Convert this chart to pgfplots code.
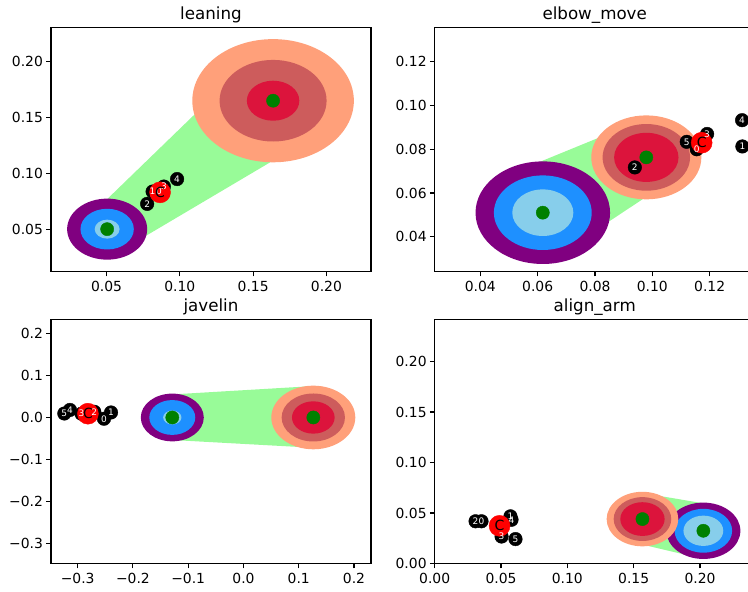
\documentclass[border=0pt]{standalone}
\usepackage{fontspec}
\setmainfont{DejaVu Sans}
\usepackage{pgfplots}
\usepackage{pgfplotstable}
\pgfplotsset{compat=1.18}
\definecolor{mplpurple}{HTML}{800080}
\definecolor{dodgerblue}{HTML}{1E90FF}
\definecolor{skyblue}{HTML}{87CEEB}
\definecolor{lightsalmon}{HTML}{FFA07A}
\definecolor{indianred}{HTML}{CD5C5C}
\definecolor{crimson}{HTML}{DC143C}
\definecolor{mplgreen}{HTML}{008000}
\definecolor{palegreen}{HTML}{98FB98}
\definecolor{mplred}{HTML}{FF0000}

\pgfdeclareplotmark{ell}{\pgfpathellipse{\pgfpointorigin}{\pgfpoint{\xr pt}{0pt}}{\pgfpoint{0pt}{\yr pt}}\pgfusepathqfill}
\pgfdeclareplotmark{nothing}{}

\pgfplotsset{
  sub/.style={width=320pt, height=244pt, scale only axis, anchor=south west, clip=false,
    axis line style={line width=1.1pt, black}, tick align=outside, major tick length=4.9pt,
    tick style={black, line width=1.1pt}, tick pos=left,
    tick label style={font=\fontsize{13.9}{16}\selectfont, text=black},
    xticklabel style={inner sep=0pt, yshift=-5pt},
    yticklabel style={inner sep=0pt, xshift=-3pt}},
  ring/.style 2 args={scatter, only marks, mark=ell, scatter/use mapped color={draw=none, fill=#1},
    visualization depends on={\sx*\thisrow{#2} \as \xr},
    visualization depends on={\sy*\thisrow{#2} \as \yr}},
  dot/.style={only marks, mark=*, mark size=6.6pt, color=mplgreen},
  pts/.style={only marks, mark=*, mark size=6.8pt, color=black},
  cpt/.style={only marks, mark=*, mark size=10.5pt, color=mplred},
  ptlab/.style={only marks, mark=nothing,
    nodes near coords, point meta=explicit symbolic, nodes near coords align={center},
    every node near coord/.append style={anchor=center, text=white, inner sep=0pt, font=\fontsize{9}{10}\selectfont}},
  clab/.style={only marks, mark=nothing,
    nodes near coords={C}, nodes near coords align={center},
    every node near coord/.append style={anchor=center, text=black, inner sep=0pt, font=\fontsize{14}{16}\selectfont}},
}

\newcommand{\drawall}[5]{%
  \addplot[fill=palegreen, draw=none] table {#3} -- cycle;
  \addplot[ring={mplpurple}{r3}] table {#1};
  \addplot[ring={dodgerblue}{r2}] table {#1};
  \addplot[ring={skyblue}{r1}] table {#1};
  \addplot[dot] table {#1};
  \addplot[ring={lightsalmon}{r3}] table {#2};
  \addplot[ring={indianred}{r2}] table {#2};
  \addplot[ring={crimson}{r1}] table {#2};
  \addplot[dot] table {#2};
  \addplot[pts] table {#4};
  \addplot[cpt] table {#5};
  \addplot[ptlab] table[meta=l] {#4};
  \addplot[clab] table {#5};
}
\newcommand{\ttl}[1]{\node[anchor=base, inner sep=0pt, font=\fontsize{16.7}{20}\selectfont] at (axis description cs:0.5,1) [yshift=8.3pt] {#1};}

% ---------- leaning ----------
\pgfplotstableread{
x y r1 r2 r3
0.0504 0.0500 0.0085 0.0182 0.0273
}\laA
\pgfplotstableread{
x y r1 r2 r3
0.1636 0.1649 0.0179 0.0365 0.0551
}\laB
\pgfplotstableread{
x y
0.0337 0.0556
0.1380 0.1881
0.1798 0.1239
0.0588 0.0300
}\laH
\pgfplotstableread{
x y l
0.0858 0.0843 0
0.0814 0.0836 1
0.0777 0.0726 2
0.0891 0.0881 3
0.0981 0.0948 4
}\laP
\pgfplotstableread{
x y
0.0865 0.0829
}\laC

% ---------- elbow_move ----------
\pgfplotstableread{
x y r1 r2 r3
0.0618 0.0510 0.01065 0.01706 0.02346
}\lbA
\pgfplotstableread{
x y r1 r2 r3
0.0979 0.0763 0.01123 0.01525 0.0192
}\lbB
\pgfplotstableread{
x y
0.0520 0.06955
0.0904 0.09015
0.10415 0.0637
0.07835 0.0413
}\lbH
\pgfplotstableread{
x y l
0.1155 0.0800 0
0.1314 0.0813 1
0.0939 0.0717 2
0.1191 0.0870 3
0.1313 0.0933 4
0.1120 0.0834 5
}\lbP
\pgfplotstableread{
x y
0.1172 0.0830
}\lbC

% ---------- javelin ----------
\pgfplotstableread{
x y r1 r2 r3
-0.1288 0.0000 0.0166 0.0416 0.0570
}\lcA
\pgfplotstableread{
x y r1 r2 r3
0.1264 0.0000 0.0386 0.0573 0.0760
}\lcB
\pgfplotstableread{
x y
-0.1288 0.0551
0.1264 0.0750
0.1264 -0.0723
-0.1288 -0.0538
}\lcH
\pgfplotstableread{
x y l
-0.2524 -0.0030 0
-0.2397 0.0120 1
-0.2700 0.0136 2
-0.2930 0.0090 3
-0.3140 0.0180 4
-0.3242 0.0095 5
}\lcP
\pgfplotstableread{
x y
-0.2815 0.0090
}\lcC

% ---------- align_arm ----------
\pgfplotstableread{
x y r1 r2 r3
0.2025 0.0324 0.0150 0.0217 0.0279
}\ldA
\pgfplotstableread{
x y r1 r2 r3
0.1566 0.0440 0.0167 0.0217 0.0270
}\ldB
\pgfplotstableread{
x y
0.1600 0.0690
0.2025 0.0596
0.1980 0.0059
0.1566 0.0187
}\ldH
\pgfplotstableread{
x y l
0.0353 0.0418 0
0.0571 0.0467 1
0.0308 0.0418 2
0.0504 0.0267 3
0.0579 0.0433 4
0.0609 0.0242 5
}\ldP
\pgfplotstableread{
x y
0.0489 0.0373
}\ldC

\begin{document}
\begin{tikzpicture}[x=1pt,y=1pt]
\useasboundingbox (0,0) rectangle (748,592);
\clip (0,0) rectangle (748,592);

\def\sx{1465.9}\def\sy{1117.7}
\begin{axis}[sub, at={(51pt,320.5pt)},
  xmin=0.0121, xmax=0.2304, ymin=0.0121, ymax=0.2304,
  xtick={0.05,0.10,0.15,0.20}, xticklabels={0.05,0.10,0.15,0.20},
  ytick={0.05,0.10,0.15,0.20}, yticklabels={0.05,0.10,0.15,0.20}]
\drawall{\laA}{\laB}{\laH}{\laP}{\laC}
\ttl{leaning}
\end{axis}

\def\sx{2867.4}\def\sy{2186.4}
\begin{axis}[sub, at={(434.7pt,320.5pt)},
  xmin=0.0241, xmax=0.1357, ymin=0.0241, ymax=0.1357,
  xtick={0.04,0.06,0.08,0.10,0.12}, xticklabels={0.04,0.06,0.08,0.10,0.12},
  ytick={0.04,0.06,0.08,0.10,0.12}, yticklabels={0.04,0.06,0.08,0.10,0.12}]
\drawall{\lbA}{\lbB}{\lbH}{\lbP}{\lbC}
\ttl{elbow\_move}
\end{axis}

\def\sx{552.6}\def\sy{418.7}
\begin{axis}[sub, at={(51pt,28.5pt)},
  xmin=-0.3483, xmax=0.2308, ymin=-0.3487, ymax=0.2340,
  xtick={-0.3,-0.2,-0.1,0,0.1,0.2}, xticklabels={−0.3,−0.2,−0.1,0.0,0.1,0.2},
  ytick={-0.3,-0.2,-0.1,0,0.1,0.2}, yticklabels={−0.3,−0.2,−0.1,0.0,0.1,0.2}]
\drawall{\lcA}{\lcB}{\lcH}{\lcP}{\lcC}
\ttl{javelin}
\end{axis}

\def\sx{1327.2}\def\sy{1009.9}
\begin{axis}[sub, at={(434.7pt,28.5pt)},
  xmin=0, xmax=0.2412, ymin=0, ymax=0.2416,
  xtick={0,0.05,0.10,0.15,0.20}, xticklabels={0.00,0.05,0.10,0.15,0.20},
  ytick={0,0.05,0.10,0.15,0.20}, yticklabels={0.00,0.05,0.10,0.15,0.20}]
\drawall{\ldA}{\ldB}{\ldH}{\ldP}{\ldC}
\ttl{align\_arm}
\end{axis}
\end{tikzpicture}
\end{document}
